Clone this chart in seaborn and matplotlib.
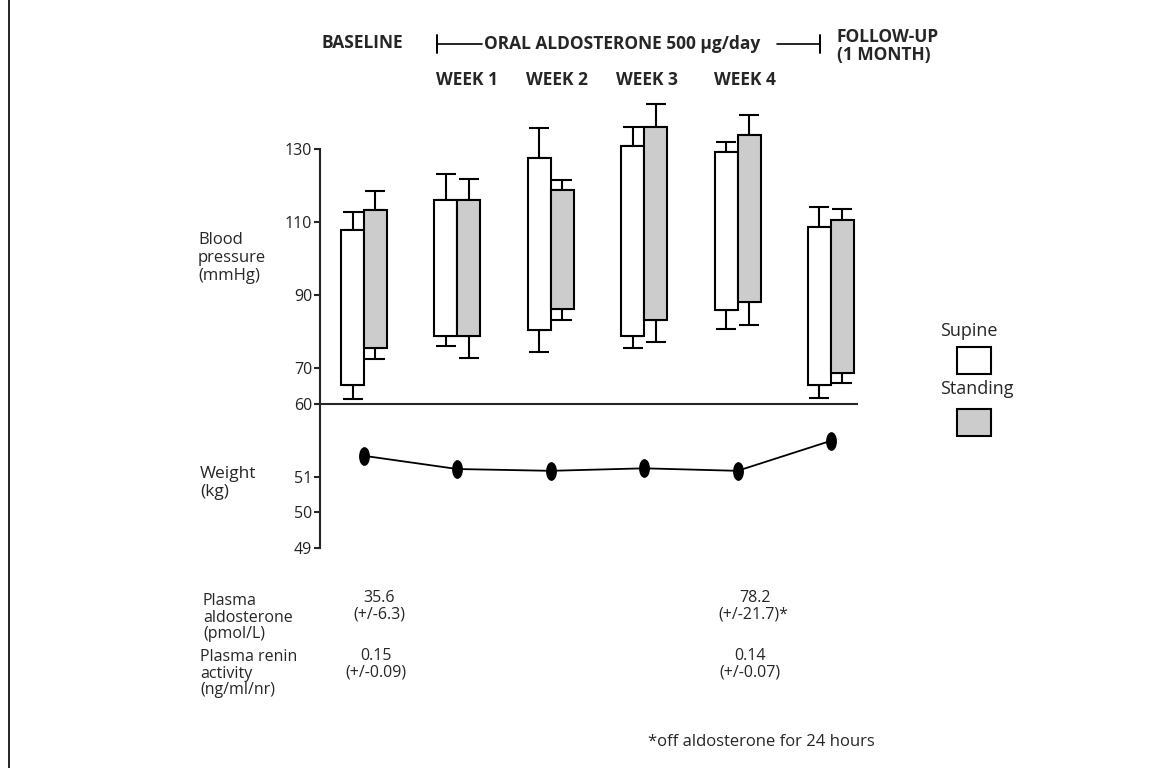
import numpy as np
import pandas as pd
import matplotlib.pyplot as plt
import seaborn as sns
from matplotlib.path import Path
from matplotlib.markers import MarkerStyle
from matplotlib.transforms import Affine2D
from matplotlib.lines import Line2D
from matplotlib.patches import Rectangle

# Data
visits = ["Baseline", "Week 1", "Week 2", "Week 3", "Week 4", "Follow-up"]
supine_top = [107.8, 116.0, 127.5, 130.9, 129.2, 108.7]
supine_bottom = [65.1, 78.8, 80.3, 78.7, 85.8, 65.1]
supine_sd_top = [5.0, 7.2, 8.3, 5.3, 2.7, 5.4]
supine_sd_bottom = [3.8, 2.9, 6.0, 3.2, 5.3, 3.5]
standing_top = [113.3, 116.0, 118.9, 136.2, 134.0, 110.6]
standing_bottom = [75.3, 78.8, 86.0, 83.1, 87.9, 68.4]
standing_sd_top = [5.2, 5.9, 2.7, 6.2, 5.4, 2.9]
standing_sd_bottom = [2.9, 6.1, 2.8, 6.0, 6.3, 2.5]
weight = [51.58, 51.21, 51.16, 51.23, 51.16, 52.0]

bp_ticks = [60, 70, 90, 110, 130]
weight_ticks = [49, 50, 51]
week_labels = ["WEEK 1", "WEEK 2", "WEEK 3", "WEEK 4"]

aldo_label = ["Plasma", "aldosterone", "(pmol/L)"]
aldo_base = ["35.6", "(+/-6.3)"]
aldo_week4 = ["78.2", "(+/-21.7)*"]
renin_label = ["Plasma renin", "activity", "(ng/ml/nr)"]
renin_base = ["0.15", "(+/-0.09)"]
renin_week4 = ["0.14", "(+/-0.07)"]

sns.set_style("ticks")
plt.rcParams["font.family"] = ["Open Sans", "DejaVu Sans"]

W, H = 1166, 768


def fx(x):
    return x / W


def fy(y):
    return 1 - y / H


fig = plt.figure(figsize=(W / 100, H / 100), dpi=100)
ax1 = fig.add_axes([fx(320), fy(404), 537 / W, 309 / H])
ax2 = fig.add_axes([fx(320), fy(548), 537 / W, 144 / H])

x = np.arange(len(visits))
w = 0.246
edge = dict(edgecolor="black", linewidth=1.5, zorder=3)

sup_h = np.array(supine_top) - np.array(supine_bottom)
sta_h = np.array(standing_top) - np.array(standing_bottom)
ax1.bar(x - w, sup_h, width=w, bottom=supine_bottom, align="edge", facecolor="white", **edge)
ax1.bar(x, sta_h, width=w, bottom=standing_bottom, align="edge", facecolor="#cccccc", **edge)

zeros = np.zeros(len(visits))
err = dict(fmt="none", ecolor="black", elinewidth=1.5, capsize=7, capthick=1.5, zorder=2)
ax1.errorbar(x - w / 2, supine_top, yerr=[zeros, supine_sd_top], **err)
ax1.errorbar(x - w / 2, supine_bottom, yerr=[supine_sd_bottom, zeros], **err)
ax1.errorbar(x + w / 2, standing_top, yerr=[zeros, standing_sd_top], **err)
ax1.errorbar(x + w / 2, standing_bottom, yerr=[standing_sd_bottom, zeros], **err)

ax1.set_xlim(-0.471, 5.279)
ax1.set_ylim(60, 144.9)
ax1.set_yticks(bp_ticks)
ax1.spines[["top", "right"]].set_visible(False)
ax1.spines["left"].set_bounds(60, 130)
for sp in ax1.spines.values():
    sp.set_linewidth(1.5)
ax1.tick_params(axis="x", bottom=False, labelbottom=False)
ax1.patch.set_alpha(0)

# Weight panel
ell = MarkerStyle(Affine2D().scale(0.58, 1).transform_path(Path.unit_circle()))
wdf = pd.DataFrame({"x": x, "weight": weight})
sns.lineplot(data=wdf, x="x", y="weight", ax=ax2, color="black", linewidth=1.3,
             marker=ell, markersize=13.5, markeredgewidth=0, markeredgecolor="black",
             clip_on=False)
ax2.set_xlim(-0.471, 5.279)
ax2.set_ylim(49, 53.03)
ax2.set_yticks(weight_ticks)
ax2.spines[["top", "right", "bottom"]].set_visible(False)
ax2.spines["left"].set_linewidth(1.5)
ax2.tick_params(axis="x", bottom=False, labelbottom=False)
ax2.set_xlabel("")
ax2.set_ylabel("")
ax2.patch.set_alpha(0)

for ax in (ax1, ax2):
    ax.tick_params(axis="y", length=4, width=1.5, pad=1.5, labelsize=11.5, labelcolor="#222222")

# Left labels
for i, t in enumerate(["Blood", "pressure", "(mmHg)"]):
    fig.text(fx(198), fy(240 + 18 * i), t, fontsize=12, va="center", ha="left")
for i, t in enumerate(["Weight", "(kg)"]):
    fig.text(fx(200), fy(474 + 18 * i), t, fontsize=12.5, va="center", ha="left")

# Header
bold = dict(fontsize=12.5, fontweight="bold", va="center")
fig.text(fx(362), fy(43), "BASELINE", ha="center", **bold)
fig.text(fx(484), fy(44), "ORAL ALDOSTERONE 500 \u03bcg/day", ha="left", **bold)
fig.text(fx(837), fy(37), "FOLLOW-UP", ha="left", **bold)
fig.text(fx(837), fy(55), "(1 MONTH)", ha="left", **bold)
for xc, t in zip([467, 557, 647, 745], week_labels):
    fig.text(fx(xc), fy(80), t, ha="center", **bold)
for xs in ([437, 437], [820, 820]):
    fig.add_artist(Line2D([fx(xs[0]), fx(xs[1])], [fy(35), fy(53)], color="black", lw=1.4))
fig.add_artist(Line2D([fx(437), fx(482)], [fy(44), fy(44)], color="black", lw=1.2))
fig.add_artist(Line2D([fx(777), fx(820)], [fy(44), fy(44)], color="black", lw=1.2))

# Legend
fig.text(fx(940), fy(331), "Supine", fontsize=13, va="center", ha="left")
fig.text(fx(940), fy(389), "Standing", fontsize=13, va="center", ha="left")
fig.add_artist(Rectangle((fx(957), fy(374)), 34 / W, 27 / H, transform=fig.transFigure,
                         facecolor="white", edgecolor="black", lw=1.5))
fig.add_artist(Rectangle((fx(957), fy(436)), 34 / W, 27 / H, transform=fig.transFigure,
                         facecolor="#cccccc", edgecolor="black", lw=1.5))

# Bottom table
fs = 11.5
for i, t in enumerate(aldo_label):
    fig.text(fx(203), fy(601 + 16.5 * i), t, fontsize=fs, va="center", ha="left")
for i, t in enumerate(renin_label):
    fig.text(fx(200), fy(657 + 16.5 * i), t, fontsize=fs, va="center", ha="left")
for i, t in enumerate(aldo_base):
    fig.text(fx(379), fy(598 + 16.5 * i), t, fontsize=fs, va="center", ha="center")
for i, t in enumerate(renin_base):
    fig.text(fx(376), fy(656 + 16.5 * i), t, fontsize=fs, va="center", ha="center")
fig.text(fx(755), fy(598), aldo_week4[0], fontsize=fs, va="center", ha="center")
fig.text(fx(718), fy(614.5), aldo_week4[1], fontsize=fs, va="center", ha="left")
for i, t in enumerate(renin_week4):
    fig.text(fx(750), fy(656 + 16.5 * i), t, fontsize=fs, va="center", ha="center")
fig.text(fx(648), fy(742), "*off aldosterone for 24 hours", fontsize=12, va="center", ha="left")

# Left frame edge
fig.add_artist(Line2D([fx(9), fx(9)], [0, 1], color="black", lw=1.2))

fig.savefig("out.png", dpi=100)
